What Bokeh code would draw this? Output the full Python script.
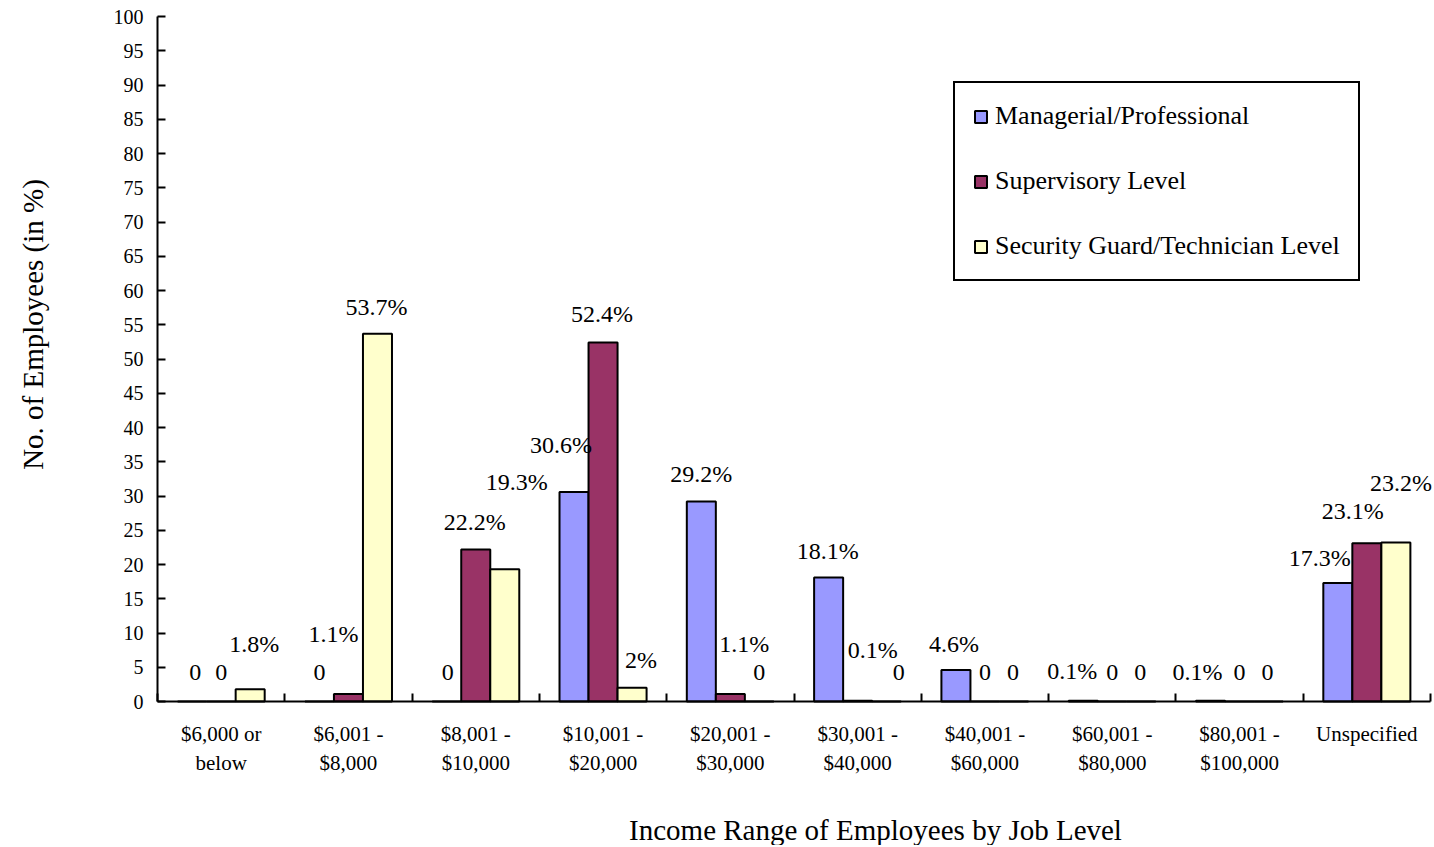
from math import pi
from bokeh.plotting import figure
from bokeh.models import (ColumnDataSource, Range1d, FixedTicker, Legend, LegendItem,
                          LabelSet, Label)
from bokeh.transform import dodge
from bokeh.embed import file_html
from bokeh.resources import INLINE

# ---------------- data ----------------
cat_line1 = ["$6,000 or", "$6,001 -", "$8,001 -", "$10,001 -", "$20,001 -",
             "$30,001 -", "$40,001 -", "$60,001 -", "$80,001 -", "Unspecified"]
cat_line2 = ["below", "$8,000", "$10,000", "$20,000", "$30,000",
             "$40,000", "$60,000", "$80,000", "$100,000", ""]
managerial = [0, 0, 0, 30.6, 29.2, 18.1, 4.6, 0.1, 0.1, 17.3]
supervisory = [0, 1.1, 22.2, 52.4, 1.1, 0.1, 0, 0, 0, 23.1]
security = [1.8, 53.7, 19.3, 2, 0, 0, 0, 0, 0, 23.2]
series_names = ["Managerial/Professional", "Supervisory Level",
                "Security Guard/Technician Level"]
y_ticks = list(range(0, 101, 5))
y_title = "No. of Employees (in %)"
x_title = "Income Range of Employees by Job Level"

# ---------------- style / layout ----------------
colors = ["#9999FF", "#993366", "#FFFFCC"]
FONT = "Liberation Serif"
W, H = 1432, 845
PX_LEFT, PX_RIGHT, PX_TOP, PX_BOTTOM = 157, 1430, 16, 701   # plot-area edges in pixels
# data-label pixel offsets (dx right, dy up) from the top of each bar
label_dx = [[3, 0, 1, -13, 0, -1, -2, -11, -13, -18],
            [0, -15, -1, -1, 14, 15, 0, 0, 0, -14],
            [4, -1, 12, 9, 0, 12, -1, -1, -1, 5]]
label_dy = [[29, 29, 29, 47, 27, 27, 26, 30, 29, 25],
            [29, 60, 27, 29, 50, 51, 29, 29, 29, 32],
            [45, 27, 87, 28, 29, 29, 29, 29, 29, 60]]

n = len(cat_line1)
ymax = y_ticks[-1]
sx = (PX_RIGHT - PX_LEFT) / n
sy = (PX_BOTTOM - PX_TOP) / ymax
x_range = Range1d(-PX_LEFT / sx, (W - PX_LEFT) / sx)
y_range = Range1d(-(H - PX_BOTTOM) / sy, ymax + PX_TOP / sy)

xc = [i + 0.5 for i in range(n)]
bar_w = 0.228

src = ColumnDataSource(dict(x=xc, mgr=managerial, sup=supervisory, sec=security))

p = figure(width=W, height=H, x_range=x_range, y_range=y_range,
           output_backend="svg", toolbar_location=None, min_border=0)
p.xgrid.visible = False
p.ygrid.visible = False
p.outline_line_color = None
p.background_fill_color = "white"
p.border_fill_color = "white"

renderers = []
series = [managerial, supervisory, security]
for k, (key, off, color) in enumerate(zip(["mgr", "sup", "sec"], [-bar_w, 0, bar_w], colors)):
    r = p.vbar(x=dodge("x", off), top=key, bottom=0, width=bar_w, source=src,
               fill_color=color, line_color="black", line_width=2)
    renderers.append(r)
    vals = series[k]
    lsrc = ColumnDataSource(dict(
        x=[x + off for x in xc], y=vals,
        text=["0" if v == 0 else f"{v:g}%" for v in vals],
        dx=label_dx[k], dy=label_dy[k]))
    p.add_layout(LabelSet(x="x", y="y", text="text", x_offset="dx", y_offset="dy",
                          source=lsrc, text_align="center", text_baseline="middle",
                          text_font=FONT, text_font_size="24px", text_color="black"))

# y axis (fixed at x = 0)
p.yaxis.fixed_location = 0
p.yaxis.bounds = (0, ymax)
p.yaxis.ticker = FixedTicker(ticks=y_ticks)
p.yaxis.major_tick_in = 8
p.yaxis.major_tick_out = 0
p.yaxis.minor_tick_in = 0
p.yaxis.minor_tick_out = 0
p.yaxis.axis_line_width = 2
p.yaxis.axis_line_color = "black"
p.yaxis.major_tick_line_width = 2
p.yaxis.major_tick_line_color = "black"
p.yaxis.major_label_text_font = FONT
p.yaxis.major_label_text_font_size = "20px"
p.yaxis.major_label_text_color = "black"
p.yaxis.major_label_standoff = 14

# x axis (fixed at y = 0), ticks between categories
p.xaxis.fixed_location = 0
p.xaxis.bounds = (0, n)
p.xaxis.ticker = FixedTicker(ticks=[], minor_ticks=list(range(n + 1)))
p.xaxis.major_tick_in = 0
p.xaxis.major_tick_out = 0
p.xaxis.minor_tick_in = 8
p.xaxis.minor_tick_out = 0
p.xaxis.minor_tick_line_color = "black"
p.xaxis.minor_tick_line_width = 2
p.xaxis.axis_line_width = 2
p.xaxis.axis_line_color = "black"
p.xaxis.major_label_text_font_size = "0px"

# category labels (two lines below the axis)
csrc = ColumnDataSource(dict(x=xc, y=[0] * n, l1=cat_line1, l2=cat_line2))
for col, yoff in [("l1", -32), ("l2", -61)]:
    p.add_layout(LabelSet(x="x", y="y", y_offset=yoff, text=col, source=csrc,
                          text_align="center", text_baseline="middle",
                          text_font=FONT, text_font_size="21px", text_color="black"))

# axis titles
p.add_layout(Label(x=32, y=H - 324, x_units="screen", y_units="screen",
                   text=y_title, angle=pi / 2,
                   text_align="center", text_baseline="middle",
                   text_font=FONT, text_font_size="29px", text_color="black"))
p.add_layout(Label(x=875, y=H - 829, x_units="screen", y_units="screen",
                   text=x_title, text_align="center", text_baseline="middle",
                   text_font=FONT, text_font_size="29px", text_color="black"))

legend = Legend(items=[LegendItem(label=nm, renderers=[r]) for nm, r in zip(series_names, renderers)],
                location=(953, H - 281), orientation="vertical",
                glyph_width=15, glyph_height=15, label_height=22, label_standoff=7,
                spacing=35, padding=18, margin=0,
                label_text_font=FONT, label_text_font_size="26px", label_text_color="black",
                border_line_color="black", border_line_width=2, border_line_alpha=1,
                background_fill_color="white", background_fill_alpha=1)
p.add_layout(legend)

open("out.html", "w").write(file_html(p, INLINE))
